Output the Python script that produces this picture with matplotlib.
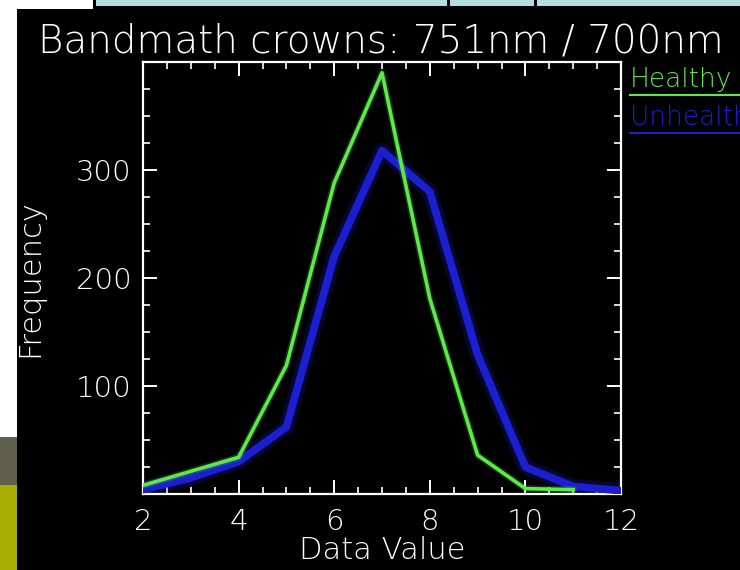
import matplotlib
matplotlib.use("Agg")
import matplotlib.pyplot as plt
from matplotlib.patches import Rectangle
from matplotlib.ticker import MultipleLocator

# Histogram of the band ratio for the two crown classes
data_values = [2, 3, 4, 5, 6, 7, 8, 9, 10, 11, 12]
healthy = [8, 21, 34, 119, 288, 390, 181, 36, 5, 4]
unhealthy = [4, 15, 30, 62, 220, 318, 280, 129, 25, 7, 3]

title = "Bandmath crowns: 751nm / 700nm"
series_names = ["Healthy", "Unhealthy"]
x_ticks = [2, 4, 6, 8, 10, 12]
y_ticks = [100, 200, 300]

GREEN = "#5ee84a"
BLUE = "#1c1fd0"
FONT = "DejaVu Sans"

fig = plt.figure(figsize=(7.4, 5.7), dpi=100)
fig.patch.set_facecolor("white")

# slide background pieces around the plot window
def frect(x0, y0, x1, y1, color, z=-10):
    W, H = 740.0, 570.0
    fig.patches.append(Rectangle((x0 / W, 1 - y1 / H), (x1 - x0) / W, (y1 - y0) / H,
                                 transform=fig.transFigure, facecolor=color,
                                 edgecolor="none", zorder=z))

frect(17, 9, 740, 570, "black")
frect(0, 437, 17, 485, "#5f604b")
frect(0, 485, 17, 570, "#a9ae02")
frect(93, 0, 740, 9, "black")
frect(96, 0, 740, 6, "#b3dde2", z=-9)
frect(447, 0, 450, 6, "black", z=-8)
frect(534, 0, 537, 6, "black", z=-8)

ax = fig.add_axes([143 / 740, 76 / 570, 478 / 740, 432 / 570])
ax.set_facecolor("black")

# blue series with a soft halo
ax.plot(data_values, unhealthy, color="#2a2cff", lw=11, alpha=0.18, solid_joinstyle="round",
        solid_capstyle="round", zorder=2)
ax.plot(data_values, unhealthy, color=BLUE, lw=5.5, solid_joinstyle="round", zorder=3)
ax.plot(data_values[:len(healthy)], healthy, color=GREEN, lw=5, alpha=0.2, zorder=4)
ax.plot(data_values[:len(healthy)], healthy, color=GREEN, lw=2.6, zorder=5)

ax.set_xlim(2, 12)
ax.set_ylim(0, 400)
ax.set_xticks(x_ticks)
ax.set_yticks(y_ticks)
ax.xaxis.set_minor_locator(MultipleLocator(0.5))
ax.yaxis.set_minor_locator(MultipleLocator(25))

for s in ax.spines.values():
    s.set_color("white")
    s.set_linewidth(1.6)

ax.tick_params(which="both", direction="in", colors="white", top=True, right=True,
               labelsize=21)
ax.tick_params(axis="x", pad=10)
ax.tick_params(axis="y", pad=8)
ax.tick_params(which="major", length=10, width=1.4)
ax.tick_params(which="minor", length=5, width=1.2)
for lab in ax.get_xticklabels() + ax.get_yticklabels():
    lab.set_fontfamily(FONT)
    lab.set_fontweight("light")

ax.set_xlabel("Data Value", color="white", fontsize=22, family=FONT, fontweight="light",
              labelpad=0)
ax.set_ylabel("Frequency", color="white", fontsize=22, family=FONT, fontweight="light",
              labelpad=23)

fig.text(381 / 740, 1 - 42 / 570, title, color="white", fontsize=28, family=FONT,
         fontweight="light", ha="center", va="center")

# legend entries drawn as underlined labels to the right of the plot
for name, color, y in [(series_names[0], GREEN, 80), (series_names[1], BLUE, 118)]:
    fig.text(630 / 740, 1 - y / 570, name, color=color, fontsize=19, family=FONT,
             fontweight="light", ha="left", va="center")
    fig.lines.append(plt.Line2D([630 / 740, 1.0], [1 - (y + 15) / 570] * 2,
                                transform=fig.transFigure, color=color, lw=1.5))

fig.savefig("out.png", dpi=100, facecolor=fig.get_facecolor())
